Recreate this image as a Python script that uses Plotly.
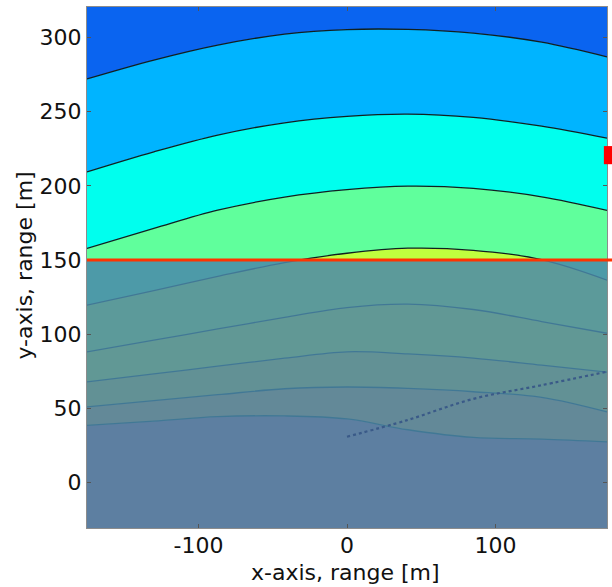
import plotly.graph_objects as go

# ---- data ----
X_MIN, X_MAX = -175, 175
Y_MIN, Y_MAX = -30.5, 320.5
THRESHOLD_Y = 150          # red horizontal line
MARKER_Y = [214.6, 226.8]  # red marker at right edge

xs = [-175, -130, -87, -42, 0, 41, 85, 131, 175]

# contour lines (top to bottom), y value at each x in xs
c1 = [272.0, 284.7, 294.8, 302.2, 305.3, 305.4, 302.9, 296.8, 286.9]
c2 = [209.4, 222.9, 234.2, 242.5, 246.8, 248.3, 246.1, 240.2, 232.1]
c3 = [157.8, 171.3, 183.6, 192.4, 197.4, 199.8, 198.3, 192.6, 183.5]
c4 = [119.6, 129.4, 139.0, 148.3, 154.6, 158.0, 156.6, 150.3, 136.5]
c5 = [88.1, 96.0, 103.6, 111.4, 118.0, 120.3, 116.7, 108.6, 100.7]
c6 = [68.0, 73.3, 78.5, 83.9, 88.2, 86.8, 84.0, 79.2, 74.5]
c7 = [51.1, 55.3, 59.3, 63.3, 64.5, 63.5, 61.3, 57.5, 47.7]
c8 = [38.7, 41.5, 44.5, 45.0, 43.0, 35.7, 30.5, 29.4, 27.5]

# dotted track in the lower region
track_x = [0, 40, 85, 130, 176]
track_y = [31, 42, 56.5, 65.5, 75]

# band colours, from the lowest band upwards (jet-like)
band_colors = ["#c84a6e", "#f08a30", "#e8c020", "#e0f020", "#c0ff3e",
               "#60ff9c", "#00ffee", "#00b4ff", "#0a64f0"]

x_ticks = [-100, 0, 100]
x_tick_text = ["-100", "0", "100"]
y_ticks = [0, 50, 100, 150, 200, 250, 300]

FONT = "DejaVu Sans"

fig = go.Figure()

# bottom boundary (no fill)
fig.add_trace(go.Scatter(x=xs, y=[Y_MIN] * len(xs), mode="lines",
                         line=dict(width=0), hoverinfo="skip", showlegend=False))

lines = [c8, c7, c6, c5, c4, c3, c2, c1]
for i, ln in enumerate(lines):
    fig.add_trace(go.Scatter(x=xs, y=ln, mode="lines", fill="tonexty",
                             fillcolor=band_colors[i],
                             line=dict(color="#102020", width=1.3, shape="spline",
                                       smoothing=1.0),
                             hoverinfo="skip", showlegend=False))

# top boundary, fills the topmost band
fig.add_trace(go.Scatter(x=xs, y=[Y_MAX] * len(xs), mode="lines", fill="tonexty",
                         fillcolor=band_colors[-1], line=dict(width=0),
                         hoverinfo="skip", showlegend=False))

# semi-transparent overlay below the threshold
fig.add_trace(go.Scatter(x=[X_MIN, X_MAX, X_MAX, X_MIN, X_MIN],
                         y=[Y_MIN, Y_MIN, THRESHOLD_Y, THRESHOLD_Y, Y_MIN],
                         mode="lines", fill="toself",
                         fillcolor="rgba(74,136,170,0.85)", line=dict(width=0),
                         hoverinfo="skip", showlegend=False))

# dotted track
fig.add_trace(go.Scatter(x=track_x, y=track_y, mode="lines",
                         line=dict(color="#3a5a88", width=2.2, dash="dot",
                                   shape="spline"),
                         hoverinfo="skip", showlegend=False))


def to_paper_y(v):
    return (v - Y_MIN) / (Y_MAX - Y_MIN)


# red threshold line (extends slightly past right edge) and red marker
fig.add_shape(type="line", xref="paper", yref="paper", x0=0, x1=1.02,
              y0=to_paper_y(THRESHOLD_Y), y1=to_paper_y(THRESHOLD_Y),
              line=dict(color="#ff3300", width=3), layer="above")
fig.add_shape(type="rect", xref="paper", yref="paper", x0=0.994, x1=1.02,
              y0=to_paper_y(MARKER_Y[0]), y1=to_paper_y(MARKER_Y[1]),
              fillcolor="#ff0000", line=dict(width=0), layer="above")

axis_common = dict(showgrid=False, zeroline=False, showline=True, mirror="ticks",
                   linecolor="#8c8c8c", linewidth=1, ticks="inside", ticklen=4,
                   tickcolor="#555555", automargin=False,
                   tickfont=dict(family=FONT, size=22, color="#111111"))

fig.update_layout(
    width=612, height=587,
    margin=dict(l=87, r=5, t=7, b=59),
    paper_bgcolor="white", plot_bgcolor="white",
    xaxis=dict(range=[X_MIN, X_MAX], tickvals=x_ticks, ticktext=x_tick_text,
               ticklabelstandoff=-2, **axis_common),
    yaxis=dict(range=[Y_MIN, Y_MAX], tickvals=y_ticks, **axis_common),
    annotations=[
        dict(text="x-axis, range [m]", xref="paper", yref="paper",
             x=0.498, y=-0.0845, xanchor="center", yanchor="middle",
             showarrow=False, font=dict(family=FONT, size=22, color="#111111")),
        dict(text="y-axis, range [m]", xref="paper", yref="paper",
             x=-0.12, y=0.503, xanchor="center", yanchor="middle", textangle=-90,
             showarrow=False, font=dict(family=FONT, size=22, color="#111111")),
    ],
)

# remove the default page margin so the 612x587 figure fills the window exactly
fig.write_html("out.html",
               config={"displayModeBar": False},
               post_script="document.body.style.margin='0';"
                           "document.documentElement.style.overflow='hidden';")
